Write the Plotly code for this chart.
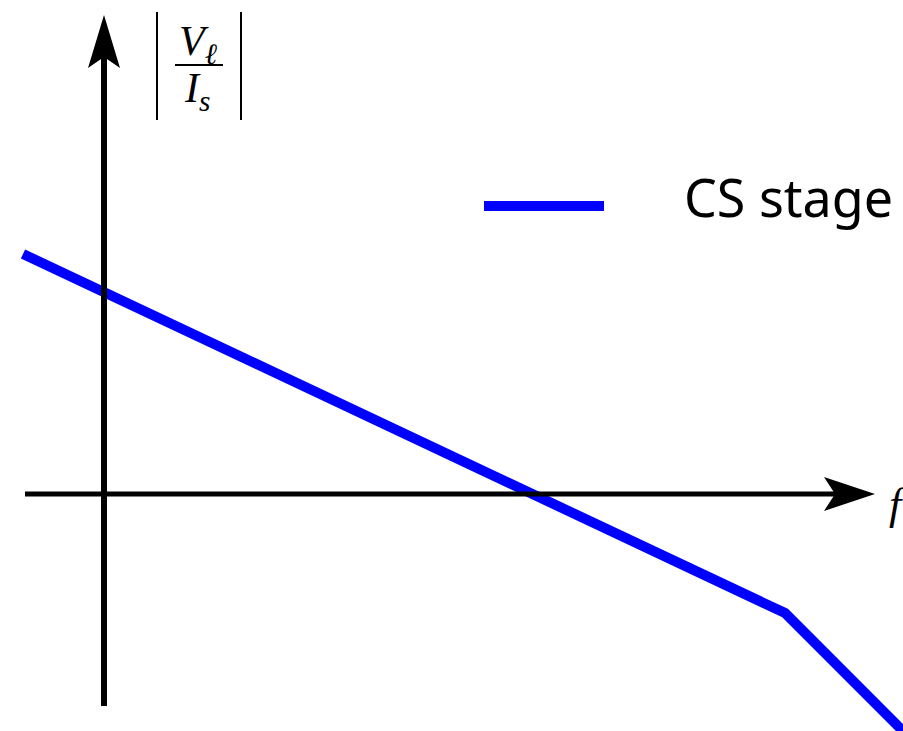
import plotly.graph_objects as go

# Asymptotic magnitude response of a common-source stage (arbitrary units,
# origin at the axes crossing).
freq = [-81, 0, 429, 681, 820]
magnitude = [240, 202, 0, -119, -258]
series_name = "CS stage"

W, H = 903, 731
ORIGIN_PX = (104, 494)          # where the two axes meet on the page
X_RANGE = [-ORIGIN_PX[0], W - ORIGIN_PX[0]]
Y_RANGE = [ORIGIN_PX[1] - H, ORIGIN_PX[1]]


def px_x(p):
    """Page pixel column -> x data value."""
    return p - ORIGIN_PX[0]


def px_y(p):
    """Page pixel row -> y data value."""
    return ORIGIN_PX[1] - p


BLUE = "#0000ff"
INK = "black"

fig = go.Figure()
fig.add_trace(go.Scatter(
    x=freq, y=magnitude, mode="lines", name=series_name,
    line=dict(color=BLUE, width=10), showlegend=False, hoverinfo="skip",
))

shapes = []

# axes with stealth arrowheads
shapes.append(dict(type="line", xref="x", yref="y", layer="above",
                   x0=px_x(25), x1=px_x(835), y0=0, y1=0,
                   line=dict(color=INK, width=5)))
shapes.append(dict(type="line", xref="x", yref="y", layer="above",
                   x0=0, x1=0, y0=px_y(706), y1=px_y(57),
                   line=dict(color=INK, width=6)))


def arrow_path(points):
    return "M " + " L ".join(f"{a},{b}" for a, b in points) + " Z"


# x-axis head (pointing right)
shapes.append(dict(type="path", xref="x", yref="y", layer="above",
                   path=arrow_path([(px_x(875), 0), (px_x(824), 17),
                                    (px_x(835), 0), (px_x(824), -17)]),
                   fillcolor=INK, line=dict(width=0)))
# y-axis head (pointing up)
shapes.append(dict(type="path", xref="x", yref="y", layer="above",
                   path=arrow_path([(0, px_y(15)), (px_x(88), px_y(68)),
                                    (0, px_y(57)), (px_x(120), px_y(68))]),
                   fillcolor=INK, line=dict(width=0)))

# |V_l / I_s| label: absolute-value bars and fraction rule
for bx in (157, 241):
    shapes.append(dict(type="line", xref="x", yref="y", layer="above",
                       x0=px_x(bx), x1=px_x(bx), y0=px_y(12), y1=px_y(120),
                       line=dict(color=INK, width=2)))
shapes.append(dict(type="line", xref="x", yref="y", layer="above",
                   x0=px_x(175), x1=px_x(223), y0=px_y(65), y1=px_y(65),
                   line=dict(color=INK, width=2)))

# legend sample
shapes.append(dict(type="line", xref="x", yref="y", layer="above",
                   x0=px_x(484), x1=px_x(604), y0=px_y(206), y1=px_y(206),
                   line=dict(color=BLUE, width=10)))

math_font = dict(family="Liberation Serif", size=42, color=INK)
annotations = [
    dict(x=px_x(198), y=px_y(44), xref="x", yref="y", showarrow=False,
         text="<i>V</i><sub><i>ℓ</i></sub>", font=math_font,
         xanchor="center", yanchor="middle"),
    dict(x=px_x(197), y=px_y(91), xref="x", yref="y", showarrow=False,
         text="<i>I</i><sub><i>s</i></sub>", font=math_font,
         xanchor="center", yanchor="middle"),
    dict(x=px_x(887), y=px_y(504), xref="x", yref="y", showarrow=False,
         text="<i>f</i>", font=dict(family="Liberation Serif", size=44, color=INK),
         xanchor="left", yanchor="middle"),
    dict(x=px_x(682), y=px_y(196), xref="x", yref="y", showarrow=False,
         text=series_name, font=dict(family="Noto Sans", size=52, color=INK),
         xanchor="left", yanchor="middle"),
]

fig.update_layout(
    width=W, height=H,
    margin=dict(l=0, r=0, t=0, b=0, pad=0),
    paper_bgcolor="white", plot_bgcolor="white",
    xaxis=dict(range=X_RANGE, visible=False, fixedrange=True),
    yaxis=dict(range=Y_RANGE, visible=False, fixedrange=True),
    shapes=shapes, annotations=annotations,
    showlegend=False,
)

fig.write_html("out.html", config={"displayModeBar": False})
